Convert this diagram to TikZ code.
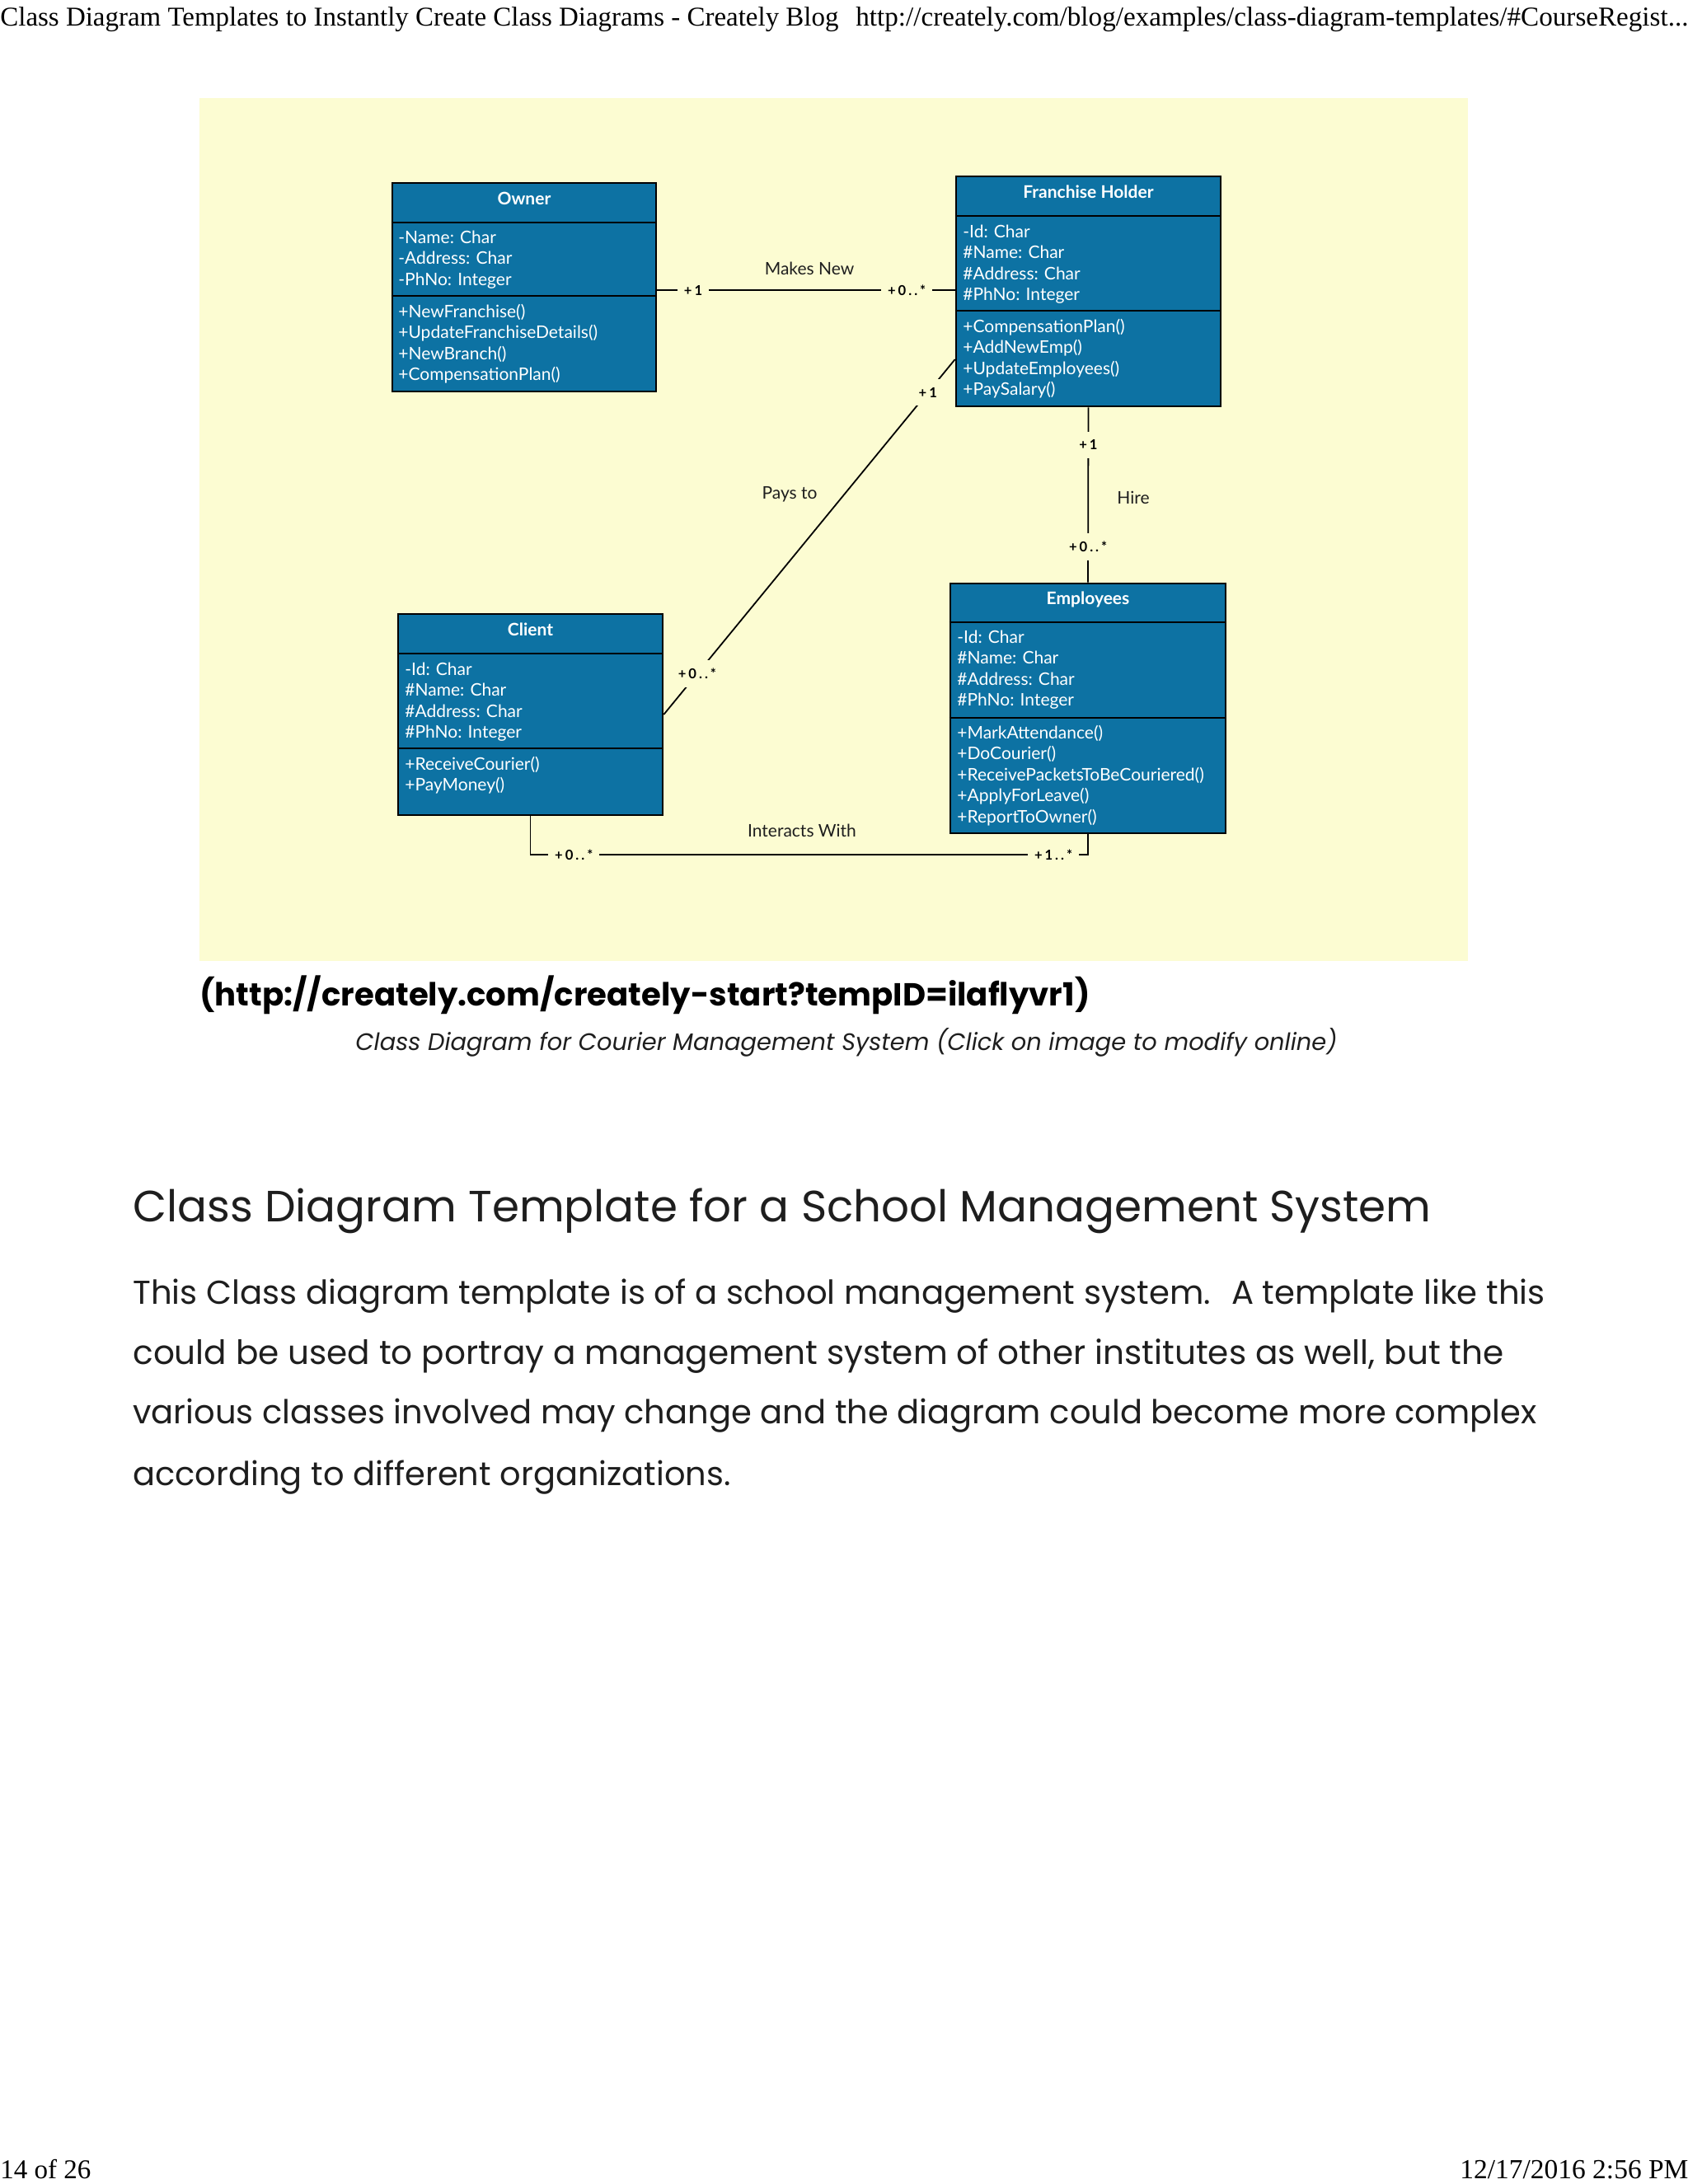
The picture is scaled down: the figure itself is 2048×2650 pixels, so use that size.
\documentclass[tikz,border=0pt]{standalone}
\usepackage{fontspec}
\usetikzlibrary{fit}
\setmainfont{Lato}
\newfontfamily\lato{Lato}
\newfontfamily\latols[LetterSpace=18]{Lato}
\newfontfamily\pop{Poppins}
\newfontfamily\tms{Liberation Serif}
\definecolor{bgy}{RGB}{252,252,210}
\definecolor{boxb}{RGB}{13,114,163}
\definecolor{txtd}{RGB}{30,30,30}
\newcommand\boxlines[4]{%
  \foreach \t [count=\i from 0] in {#4} {\node[attr] (#3\i) at (#1,#2+\i*25.5) {\t};}}
\newcommand\classbox[7]{%
  \node[classbox, fit={(#2,#3) (#4,#5)}] (#1) {};
  \draw[sepline] (#1.west |- 0,#6) -- (#1.east |- 0,#6);
  \draw[sepline] (#1.west |- 0,#7) -- (#1.east |- 0,#7);}
\begin{document}
\begin{tikzpicture}[x=0.5pt,y=-0.5pt,
  classbox/.style={draw=black, fill=boxb, line width=1.3pt, inner sep=0pt, rectangle},
  sepline/.style={draw=black, line width=1.3pt},
  attr/.style={anchor=base west, inner sep=0pt, text=white, font=\lato\fontsize{10.5}{12}\selectfont},
  ttl/.style={anchor=base, inner sep=0pt, text=white, font=\lato\bfseries\fontsize{10.5}{12}\selectfont},
  conn/.style={draw=black, line width=0.9pt},
  mult/.style={fill=bgy, inner xsep=4pt, inner ysep=5pt, text=black, font=\latols\bfseries\fontsize{8.3}{10}\selectfont},
  lbl/.style={inner sep=0pt, text=txtd, font=\lato\fontsize{10.5}{12}\selectfont},
  ptxt/.style={anchor=base west, inner sep=0pt}]
\useasboundingbox (0,0) rectangle (2048,2650);
\fill[white] (0,0) rectangle (2048,2650);
\fill[bgy] (242,119) rectangle (1781,1166);

% page header and footer
\node[ptxt] (hdra) at (0,32) {\resizebox{508.5pt}{!}{\tms Class Diagram Templates to Instantly Create Class Diagrams - Creately Blog}};
\node[ptxt] (hdrb) at (1038,32) {\resizebox{505pt}{!}{\tms http://creately.com/blog/examples/class-diagram-templates/\#CourseRegist...}};
\node[ptxt] (ftra) at (0,2643) {\resizebox{55pt}{!}{\tms 14 of 26}};
\node[ptxt] (ftrb) at (1771,2643) {\resizebox{138.5pt}{!}{\tms 12/17/2016 2:56 PM}};

% classes
\classbox{owner}{476}{222}{796}{475}{270}{359}
\node[ttl] (ownert) at (636,248) {Owner};
\boxlines{483}{295}{owa}{-Name: Char,-Address: Char,-PhNo: Integer}
\boxlines{483}{385}{owm}{+NewFranchise(),+UpdateFranchiseDetails(),+NewBranch(),+CompensationPlan()}

\classbox{fh}{1160}{214}{1481}{493}{262}{377}
\node[ttl] (fht) at (1320.5,240) {Franchise Holder};
\boxlines{1168}{288}{fha}{-Id: Char,\#Name: Char,\#Address: Char,\#PhNo: Integer}
\boxlines{1168}{403}{fhm}{+CompensationPlan(),+AddNewEmp(),+UpdateEmployees(),+PaySalary()}

\classbox{client}{483}{745}{804}{989}{793}{908}
\node[ttl] (clientt) at (643.5,771) {Client};
\boxlines{491}{819}{cla}{-Id: Char,\#Name: Char,\#Address: Char,\#PhNo: Integer}
\boxlines{491}{934}{clm}{+ReceiveCourier(),+PayMoney()}

\classbox{emp}{1153}{708}{1487}{1011}{755}{871}
\node[ttl] (empt) at (1320,733) {Employees};
\boxlines{1161}{780}{ema}{-Id: Char,\#Name: Char,\#Address: Char,\#PhNo: Integer}
\boxlines{1161}{896}{emm}{+MarkAttendance(),+DoCourier(),+ReceivePacketsToBeCouriered(),+ApplyForLeave(),+ReportToOwner()}

% connectors
\draw[conn] (owner.east |- 0,352) -- (fh.west |- 0,352)
  node[mult, pos=0.121] (mn1) {+1}
  node[mult, pos=0.838] (mn2) {+0..*};
\node[lbl] (mnl) at (982,326) {Makes New};

\draw[conn] (client.east |- 0,867) -- (fh.west |- 0,436)
  node[mult, pos=0.115] (pt1) {+0..*}
  node[mult, pos=0.907] (pt2) {+1};
\node[lbl] (ptl) at (958,600) {Pays to};

\draw[conn] (fh.south) -- (emp.north)
  node[mult, pos=0.214] (hi1) {+1}
  node[mult, pos=0.795] (hi2) {+0..*};
\node[lbl] (hil) at (1375,604) {Hire};

\draw[conn] (client.south) -- (client.south |- 0,1037) -- (emp.south |- 0,1037)
  node[mult, pos=0.078] (iw1) {+0..*}
  node[mult, pos=0.938] (iw2) {+1..*}
  -- (emp.south);
\node[lbl] (iwl) at (973,1008) {Interacts With};

% text below the diagram
\node[ptxt] (url) at (242,1220) {\resizebox{540pt}{!}{\pop\bfseries (http://creately.com/creately-start?tempID=ilaflyvr1)}};
\node[ptxt] (cap) at (431,1274) {\resizebox{595.5pt}{!}{\color{txtd}\pop\itshape Class Diagram for Courier Management System (Click on image to modify online)}};
\node[ptxt] (head) at (161,1482) {\resizebox{787.5pt}{!}{\color{txtd}\pop Class Diagram Template for a School Management System}};
\node[ptxt] (p1) at (161,1582) {\resizebox{856.5pt}{!}{\color{txtd}\pop This Class diagram template is of a school management system.~ A template like this}};
\node[ptxt] (p2) at (161,1655) {\resizebox{831.5pt}{!}{\color{txtd}\pop could be used to portray a management system of other institutes as well, but the}};
\node[ptxt] (p3) at (161,1727) {\resizebox{851.5pt}{!}{\color{txtd}\pop various classes involved may change and the diagram could become more complex}};
\node[ptxt] (p4) at (161,1802) {\resizebox{362.5pt}{!}{\color{txtd}\pop according to different organizations.}};
\end{tikzpicture}
\end{document}
